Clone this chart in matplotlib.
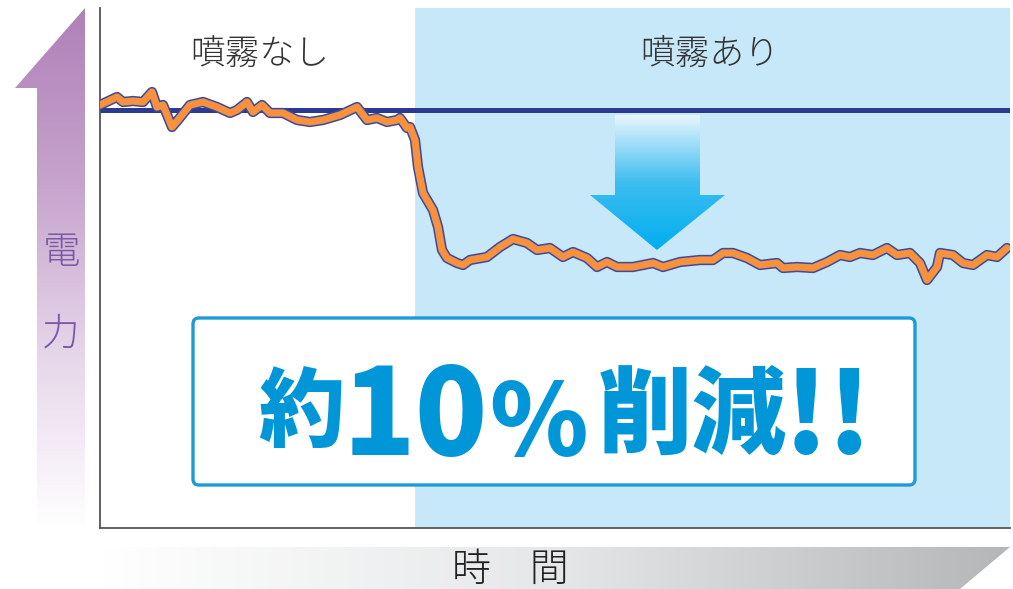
import numpy as np
import matplotlib
matplotlib.use("Agg")
import matplotlib.pyplot as plt
from matplotlib.patches import Polygon, FancyBboxPatch
import matplotlib.patheffects as pe
from matplotlib.colors import LinearSegmentedColormap

plt.rcParams['font.family'] = ['Noto Sans CJK JP', 'DejaVu Sans']

# power trace (time in px from axis origin, power in px above axis)
pre_t = [0, 17, 23, 33, 43, 52, 57, 63, 72, 78,
         90, 103, 117, 130, 137, 147, 153, 162, 170, 183,
         197, 210, 223, 240, 257, 267, 277, 287, 297, 300,
         307, 310, 315, 318, 323, 333, 338, 342]
pre_p = [423, 431, 426, 427, 426, 436, 421, 423, 401, 408,
         423, 426, 421, 415, 418, 426, 416, 423, 415, 415,
         408, 406, 408, 413, 421, 408, 410, 406, 408, 410,
         400, 401, 388, 361, 335, 318, 301, 278]
post_t = [347, 357, 363, 370, 387, 400, 413, 427, 437, 450,
          463, 473, 487, 497, 507, 517, 533, 553, 563, 580,
          600, 613, 623, 633, 647, 660, 677, 683, 697, 713,
          727, 740, 750, 760, 773, 787, 797, 810, 820, 827,
          837, 840, 853, 863, 873, 887, 897, 907]
post_p = [270, 265, 263, 268, 271, 281, 289, 285, 278, 280,
          271, 276, 270, 261, 266, 261, 261, 265, 261, 266,
          268, 268, 275, 275, 270, 263, 265, 260, 261, 260,
          266, 273, 271, 275, 273, 280, 273, 275, 265, 248,
          261, 275, 273, 265, 263, 273, 271, 280]
time = pre_t + post_t
power = pre_p + post_p
before_level = 418
spray_start = 315
labels_top = ['噴霧なし', '噴霧あり']

fig = plt.figure(figsize=(10.13, 5.89), dpi=100)

# overlay for decorations in pixel coordinates
bg = fig.add_axes([0, 0, 1, 1])
bg.set_xlim(0, 1013)
bg.set_ylim(589, 0)
bg.axis('off')

# purple arrow on the left
purple = LinearSegmentedColormap.from_list('p', ['#ffffff', '#e6d6ea', '#c6a3cc', '#b080b9'])
arr = Polygon([[85, 8], [15, 88], [37, 88], [37, 528], [85, 528]], closed=True,
              facecolor='none', edgecolor='none')
bg.add_patch(arr)
grad = np.linspace(0, 1, 256).reshape(-1, 1)
im = bg.imshow(grad, cmap=purple, extent=[10, 90, 528, 8], aspect='auto', origin='lower')
im.set_clip_path(arr)
bg.text(61, 252, '電', color='#7a5aa6', fontsize=27, fontweight='light',
        ha='center', va='center')
bg.text(61, 334, '力', color='#7a5aa6', fontsize=27, fontweight='light',
        ha='center', va='center')

# grey arrow at bottom
grey = LinearSegmentedColormap.from_list('g', ['#ffffff', '#e6e7e8', '#b5b6b8'])
arr2 = Polygon([[100, 547], [1010, 547], [960, 589], [100, 589]], closed=True,
               facecolor='none', edgecolor='none')
bg.add_patch(arr2)
im2 = bg.imshow(np.linspace(0, 1, 256).reshape(1, -1), cmap=grey,
                extent=[100, 1010, 589, 547], aspect='auto')
im2.set_clip_path(arr2)
bg.text(510, 570, '時　間', color='#222222', fontsize=28, fontweight='light',
        ha='center', va='center')

# main chart
ax = fig.add_axes([100 / 1013, 61 / 589, 910 / 1013, 520 / 589])
ax.set_xlim(0, 910)
ax.set_ylim(0, 520)
ax.axvspan(spray_start, 910, color='#c7e8f9', zorder=0, lw=0)
ax.axhline(before_level, color='#2b3990', lw=3.6, zorder=2)
ax.plot(time, power, color='#f7913d', lw=5.2, zorder=3, solid_joinstyle='round',
        solid_capstyle='round',
        path_effects=[pe.Stroke(linewidth=7.4, foreground='#3a4aa0'), pe.Normal()])
for s in ['top', 'right']:
    ax.spines[s].set_visible(False)
for s in ['left', 'bottom']:
    ax.spines[s].set_color('#555555')
    ax.spines[s].set_linewidth(1.3)
ax.set_xticks([])
ax.set_yticks([])
ax.patch.set_alpha(0)

ax.text(160, 473, labels_top[0], fontsize=25, fontweight='light', color='#333333',
        ha='center', va='center')
ax.text(610, 473, labels_top[1], fontsize=25, fontweight='light', color='#333333',
        ha='center', va='center')

# down arrow with gradient
blue = LinearSegmentedColormap.from_list('b', ['#00aeef', '#3dbdf0', '#e8f6fd'])
darr = Polygon([[515, 413], [600, 413], [600, 333], [625, 333], [557, 278],
                [490, 333], [515, 333]], closed=True, facecolor='none', edgecolor='none')
ax.add_patch(darr)
im3 = ax.imshow(np.linspace(0, 1, 256).reshape(-1, 1), cmap=blue,
                extent=[490, 625, 278, 413], aspect='auto', origin='lower', zorder=1)
im3.set_clip_path(darr)

# result box
box = FancyBboxPatch((93, 43), 722, 167, boxstyle='round,pad=0,rounding_size=6',
                     facecolor='white', edgecolor='#1c9bd7', lw=2.4, zorder=4)
ax.add_patch(box)
c = '#0096d8'
kw = dict(fontweight=900, color=c, ha='center', va='baseline', zorder=5)
ax.text(201, 88, '約', fontsize=62, **kw)
ax.text(315, 73, '10', fontsize=86, **kw)
ax.text(438, 72, '%', fontsize=72, **kw)
ax.text(592, 82, '削減', fontsize=68, **kw)
ax.text(728, 75, '!!', fontsize=80, **kw)

fig.savefig('out.png', dpi=100)
